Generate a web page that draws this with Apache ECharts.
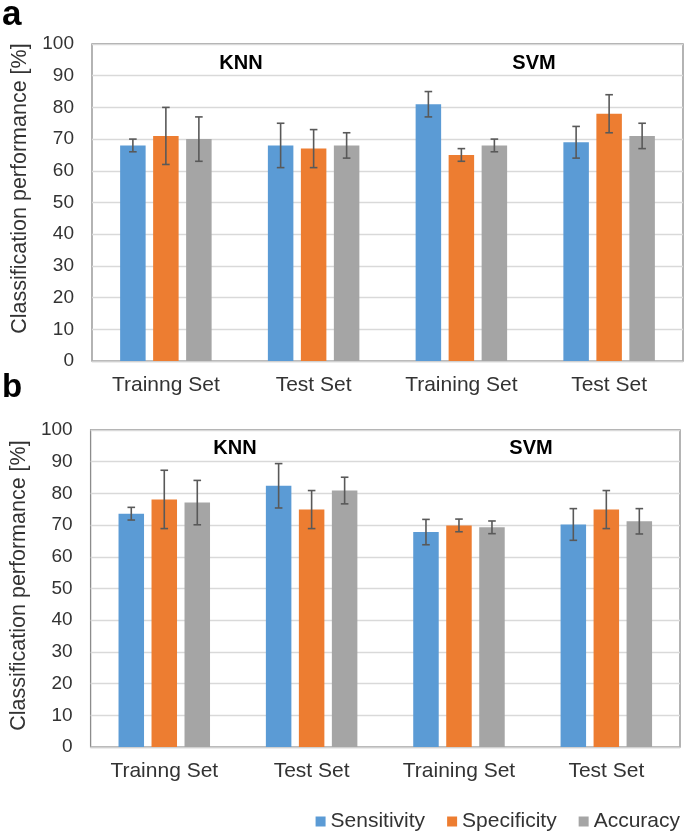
<!DOCTYPE html>
<html><head><meta charset="utf-8">
<script src="https://cdn.jsdelivr.net/npm/echarts@6/dist/echarts.min.js"></script>
<style>html,body{margin:0;padding:0;background:#fff}#c{width:685px;height:832px}</style>
</head><body><div id="c"></div>
<script>
const categories = ['Trainng Set', 'Test Set', 'Training Set', 'Test Set'];
const seriesNames = ['Sensitivity', 'Specificity', 'Accuracy'];
const yTicks = [0, 10, 20, 30, 40, 50, 60, 70, 80, 90, 100];
// Panel a
const aSensitivity = [68, 68, 81, 69];
const aSensitivityErr = [2, 7, 4, 5];
const aSpecificity = [71, 67, 65, 78];
const aSpecificityErr = [9, 6, 2, 6];
const aAccuracy = [70, 68, 68, 71];
const aAccuracyErr = [7, 4, 2, 4];
// Panel b
const bSensitivity = [73.6, 82.4, 67.8, 70.2];
const bSensitivityErr = [2, 7, 4, 5];
const bSpecificity = [78.1, 74.9, 69.9, 74.9];
const bSpecificityErr = [9.2, 6, 2, 6];
const bAccuracy = [77.1, 80.9, 69.3, 71.2];
const bAccuracyErr = [7, 4.2, 2, 4];

const colors = ['#5B9BD5', '#ED7D31', '#A5A5A5'];
const FONT = 'Liberation Sans, Arial, sans-serif';
const BAR_W = 25.5, BAR_GAP = 7.5;
const txt = '#333333';

const chart = echarts.init(document.getElementById('c'), null, {renderer: 'canvas'});

function xAx(gi) {
  return {
    type: 'category', gridIndex: gi, data: categories,
    axisTick: {show: false},
    axisLine: {show: true, lineStyle: {color: '#d0d0d0', width: 1.3}},
    axisLabel: {fontSize: 21, color: txt, fontFamily: FONT, margin: 14}
  };
}
function yAx(gi, pad) {
  return {
    type: 'value', gridIndex: gi, min: 0, max: 100, interval: 10,
    axisLine: {show: false}, axisTick: {show: false},
    axisLabel: {fontSize: 19, color: txt, fontFamily: FONT, margin: 18,
      formatter: v => (yTicks.indexOf(v) >= 0 ? String(v) : '')},
    splitLine: {lineStyle: {color: '#d9d9d9', width: 1.3}},
    name: 'Classification performance [%]', nameLocation: 'middle', nameRotate: 90, nameGap: 54,
    nameTextStyle: {fontSize: 21.5, color: txt, fontFamily: FONT, padding: pad}
  };
}
function bar(name, data, gi, ci) {
  return {
    name, type: 'bar', xAxisIndex: gi, yAxisIndex: gi, data,
    barWidth: BAR_W, barGap: (BAR_GAP / BAR_W * 100).toFixed(1) + '%',
    itemStyle: {color: colors[ci]}, silent: true
  };
}
function err(vals, errs, gi, k) {
  const off = (k - 1) * (BAR_W + BAR_GAP);
  return {
    type: 'custom', xAxisIndex: gi, yAxisIndex: gi, silent: true, z: 5,
    data: vals.map((v, i) => [i, v - errs[i], v + errs[i]]),
    encode: {x: 0, y: [1, 2]},
    renderItem: function (params, api) {
      const lo = api.coord([api.value(0), api.value(1)]);
      const hi = api.coord([api.value(0), api.value(2)]);
      const x = lo[0] + off, cw = 3.8;
      const st = {stroke: '#595959', lineWidth: 1.6};
      return {type: 'group', children: [
        {type: 'line', shape: {x1: x, y1: lo[1], x2: x, y2: hi[1]}, style: st},
        {type: 'line', shape: {x1: x - cw, y1: lo[1], x2: x + cw, y2: lo[1]}, style: st},
        {type: 'line', shape: {x1: x - cw, y1: hi[1], x2: x + cw, y2: hi[1]}, style: st}
      ]};
    }
  };
}
function label(text, x, y, size) {
  return {type: 'text', x, y, style: {text, fontSize: size, fontWeight: 'bold', fill: '#000', fontFamily: FONT, align: 'center', verticalAlign: 'middle'}};
}

const option = {
  animation: false,
  backgroundColor: '#fff',
  grid: [
    {left: 92, top: 44, width: 591, height: 317, show: true, borderColor: '#8c8c8c', borderWidth: 1.3, backgroundColor: 'transparent'},
    {left: 90, top: 430, width: 590, height: 317, show: true, borderColor: '#8c8c8c', borderWidth: 1.3, backgroundColor: 'transparent'}
  ],
  xAxis: [xAx(0), xAx(1)],
  yAxis: [yAx(0, [0, 0, 0, 28]), yAx(1, [0, 0, 0, 6])],
  legend: {
    data: seriesNames, right: 0, top: 806, icon: 'rect', itemWidth: 10, itemHeight: 10, itemGap: 22,
    textStyle: {fontSize: 21, color: txt, fontFamily: FONT, padding: [0, 0, 0, 0]}, selectedMode: false
  },
  series: [
    bar(seriesNames[0], aSensitivity, 0, 0),
    bar(seriesNames[1], aSpecificity, 0, 1),
    bar(seriesNames[2], aAccuracy, 0, 2),
    bar(seriesNames[0], bSensitivity, 1, 0),
    bar(seriesNames[1], bSpecificity, 1, 1),
    bar(seriesNames[2], bAccuracy, 1, 2),
    err(aSensitivity, aSensitivityErr, 0, 0),
    err(aSpecificity, aSpecificityErr, 0, 1),
    err(aAccuracy, aAccuracyErr, 0, 2),
    err(bSensitivity, bSensitivityErr, 1, 0),
    err(bSpecificity, bSpecificityErr, 1, 1),
    err(bAccuracy, bAccuracyErr, 1, 2)
  ],
  graphic: [
    label('KNN', 241, 63, 20), label('SVM', 534, 63, 20),
    label('KNN', 235, 448, 20), label('SVM', 531, 448, 20),
    {type: 'text', left: 2, top: -2, style: {text: 'a', fontSize: 35, fontWeight: 'bold', fill: '#000', fontFamily: FONT}},
    {type: 'text', left: 2, top: 371, style: {text: 'b', fontSize: 33, fontWeight: 'bold', fill: '#000', fontFamily: FONT}}
  ]
};
chart.setOption(option);
</script></body></html>
